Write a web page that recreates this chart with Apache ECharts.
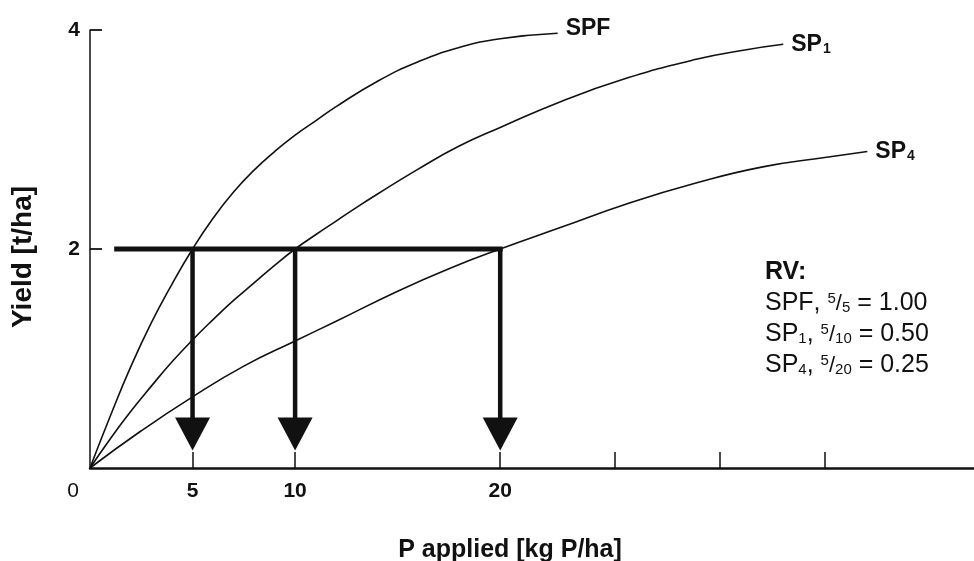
<!DOCTYPE html>
<html>
<head>
<meta charset="utf-8">
<script src="https://cdn.jsdelivr.net/npm/echarts@6/dist/echarts.min.js"></script>
<style>
  html, body { margin: 0; padding: 0; background: #fff; }
  #chart { width: 974px; height: 561px; }
</style>
</head>
<body>
<div id="chart"></div>
<script>
// Yield response curves to applied P for three P sources
const spfPoints = [[0,0],[1,0.48],[2,0.93],[3,1.33],[4,1.68],[5,2.0],[6,2.28],[7,2.52],[8,2.72],[9,2.89],[10,3.04],[11,3.17],[12,3.3],[14,3.53],[16,3.71],[18,3.84],[20,3.92],[22.8,3.97]];
const sp1Points = [[0,0],[1,0.27],[2,0.52],[3,0.75],[4,0.97],[5,1.17],[6,1.355],[7,1.53],[8,1.69],[9,1.85],[10,2.0],[11,2.13],[12,2.255],[13,2.38],[14,2.5],[16,2.73],[18,2.94],[20,3.11],[23,3.35],[26,3.55],[29.5,3.73],[32,3.82],[33.8,3.87]];
const sp4Points = [[0,0],[2.5,0.34],[5,0.65],[7.5,0.93],[10,1.16],[12,1.34],[15,1.615],[17.5,1.82],[20,2.0],[23,2.2],[26.3,2.42],[29.5,2.6],[32.8,2.75],[36,2.84],[37.9,2.89]];

const curveLabels = ['{b|SPF}', '{b|SP}{bs|1}', '{b|SP}{bs|4}'];
const curveNames = ['SPF', 'SP1', 'SP4'];

// Target yield and the P rates needed by each source to reach it
const targetYield = 2;
const doses = [5, 10, 20];
const guideStartX = 1.3;
const arrowHeadY = 0.31;

// Axis marks
const xLabelValues = [0, 5, 10, 20];
const xTickValues = [5, 10, 20, 25.6, 30.7, 35.8];
const yValues = [2, 4];

const FONT = "'Liberation Sans', Arial, Helvetica, sans-serif";
const INK = '#111';

const chart = echarts.init(document.getElementById('chart'));

const curveSeries = [spfPoints, sp1Points, sp4Points].map((pts, i) => ({
  name: curveNames[i],
  type: 'line',
  data: pts,
  smooth: 0.5,
  symbol: 'none',
  lineStyle: { color: INK, width: 1.6 },
  endLabel: {
    show: true,
    distance: 8,
    offset: i === 0 ? [0, -5] : [0, 0],
    formatter: () => curveLabels[i],
    rich: {
      b: { fontFamily: FONT, fontWeight: 'bold', fontSize: 23, color: INK },
      bs: { fontFamily: FONT, fontWeight: 'bold', fontSize: 14, color: INK, padding: [9, 0, 0, 1] }
    }
  },
  z: 2
}));

const guideSeries = {
  name: 'target',
  type: 'line',
  data: [[guideStartX, targetYield], [doses[doses.length - 1], targetYield]],
  symbol: 'none',
  lineStyle: { color: INK, width: 5, cap: 'square' },
  z: 3
};

const arrowSeries = doses.map(d => ({
  name: 'rate ' + d,
  type: 'line',
  data: [
    { value: [d, targetYield], symbol: 'none' },
    { value: [d, arrowHeadY], symbol: 'triangle', symbolRotate: 180, symbolSize: [35, 33] }
  ],
  showSymbol: true,
  symbol: 'none',
  lineStyle: { color: INK, width: 4.5 },
  itemStyle: { color: INK, borderWidth: 0 },
  z: 3
}));

// Relative value lines: base rate over the rate each source needs
const rvText = ['{h|RV:}'].concat(doses.map((d, i) => {
  const name = i === 0 ? '{t|SPF}' : '{t|SP}{sb|' + curveNames[i].slice(2) + '}';
  return name + '{t|, }{sp|' + doses[0] + '}{sl|/}{sb|' + d + '}{t| = ' + (doses[0] / d).toFixed(2) + '}';
})).join('\n');

chart.setOption({
  animation: false,
  grid: { left: 90, right: 0, top: 30, bottom: 93, outerBoundsMode: 'none', containLabel: false },
  xAxis: {
    type: 'value',
    min: 0,
    max: 43.1,
    name: 'P applied [kg P/ha]',
    nameLocation: 'middle',
    nameGap: 70,
    nameTextStyle: { fontFamily: FONT, fontWeight: 'bold', fontSize: 25, color: INK, padding: [0, 44, 0, 0] },
    axisLine: { lineStyle: { color: INK, width: 2.5 } },
    axisTick: { show: true, inside: true, length: 16, customValues: xTickValues, lineStyle: { color: INK, width: 1.5 } },
    axisLabel: {
      customValues: xLabelValues,
      margin: 13,
      formatter: v => v === 0 ? '{z|0}' : '{n|' + v + '}',
      rich: {
        z: { fontFamily: FONT, fontSize: 21, color: INK, padding: [0, 34, 0, 0] },
        n: { fontFamily: FONT, fontWeight: 'bold', fontSize: 21, color: INK }
      }
    },
    splitLine: { show: false }
  },
  yAxis: {
    type: 'value',
    min: 0,
    max: 4,
    name: 'Yield [t/ha]',
    nameLocation: 'middle',
    nameGap: 53,
    nameTextStyle: { fontFamily: FONT, fontWeight: 'bold', fontSize: 28, color: INK, padding: [0, 16, 0, 0] },
    axisLine: { show: true, lineStyle: { color: INK, width: 1.5 } },
    axisTick: { show: true, inside: true, length: 12, customValues: yValues, lineStyle: { color: INK, width: 1.8 } },
    axisLabel: {
      customValues: yValues,
      margin: 10,
      padding: [6, 0, 0, 0],
      fontFamily: FONT,
      fontWeight: 'bold',
      fontSize: 21,
      color: INK
    },
    splitLine: { show: false }
  },
  graphic: [{
    type: 'text',
    left: 765,
    top: 260,
    style: {
      text: rvText,
      fill: INK,
      rich: {
        h: { fontFamily: FONT, fontWeight: 'bold', fontSize: 25, lineHeight: 31, color: INK },
        t: { fontFamily: FONT, fontSize: 25, lineHeight: 31, color: INK },
        sp: { fontFamily: FONT, fontSize: 15, color: INK, padding: [0, 0, 9, 0] },
        sl: { fontFamily: FONT, fontSize: 22, color: INK },
        sb: { fontFamily: FONT, fontSize: 15, color: INK, padding: [9, 0, 0, 0] }
      }
    }
  }],
  series: curveSeries.concat([guideSeries]).concat(arrowSeries)
});
</script>
</body>
</html>
